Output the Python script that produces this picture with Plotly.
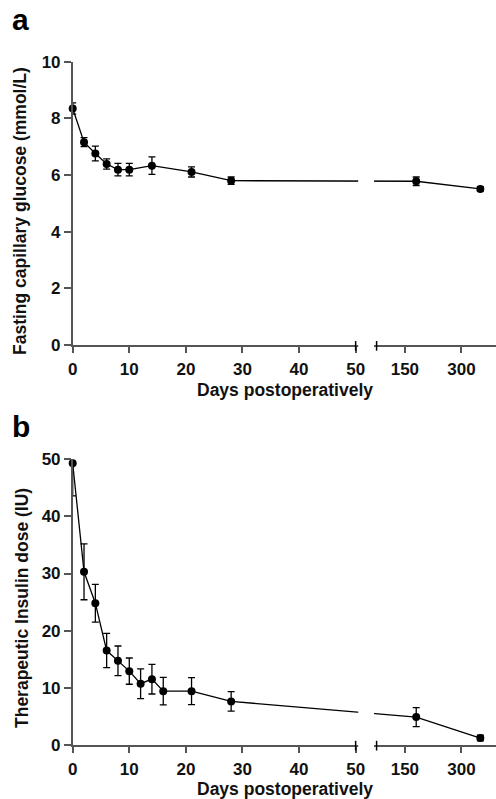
import plotly.graph_objects as go

# panel a: fasting capillary glucose
days_a = [0, 2, 4, 6, 8, 10, 14, 21, 28, 180, 350]
glucose = [8.35, 7.16, 6.76, 6.39, 6.19, 6.19, 6.33, 6.11, 5.80, 5.78, 5.51]
glucose_err = [0.20, 0.16, 0.26, 0.18, 0.22, 0.22, 0.31, 0.18, 0.13, 0.15, 0.08]

# panel b: therapeutic insulin dose
days_b = [0, 2, 4, 6, 8, 10, 12, 14, 16, 21, 28, 180, 350]
insulin = [49.3, 30.3, 24.8, 16.5, 14.7, 12.9, 10.7, 11.5, 9.4, 9.4, 7.6, 4.85, 1.17]
insulin_err = [5.7, 4.9, 3.3, 3.0, 2.6, 2.3, 2.6, 2.6, 2.4, 2.35, 1.7, 1.65, 0.5]

x_ticks = [0, 10, 20, 30, 40, 50, 150, 300]

# broken x axis: 0-50 linear, then a compressed segment from day 75 on
BREAK_END = 50
SEG2_START_DAY = 75
SEG2_START_POS = 53.7
SEG2_SCALE = 10 / 150
X_MAX = 74.8

W, H = 496, 799


def to_axis(d):
    if d <= BREAK_END:
        return d
    return SEG2_START_POS + (d - SEG2_START_DAY) * SEG2_SCALE


FONT = "Liberation Sans, Arial, sans-serif"
AXIS_COLOR = "#555555"


def panel_trace(days, vals, errs, xa, ya):
    return go.Scatter(
        x=[to_axis(d) for d in days], y=vals,
        mode="lines+markers",
        line=dict(color="black", width=1.3),
        marker=dict(color="black", size=8),
        error_y=dict(type="data", array=errs, color="black",
                     thickness=1.3, width=3.5),
        cliponaxis=False,
        xaxis=xa, yaxis=ya,
        showlegend=False,
    )


fig = go.Figure([
    panel_trace(days_a, glucose, glucose_err, "x", "y"),
    panel_trace(days_b, insulin, insulin_err, "x2", "y2"),
])

tickfont = dict(family=FONT, size=17, color="#111111", weight="bold")
xax = dict(
    range=[0, X_MAX],
    tickvals=[to_axis(t) for t in x_ticks],
    ticktext=[str(t) for t in x_ticks],
    showline=True, linecolor=AXIS_COLOR, linewidth=1.5,
    ticks="outside", ticklen=6, tickwidth=1.5, tickcolor=AXIS_COLOR,
    tickfont=tickfont, automargin=False, ticklabelstandoff=2,
    showgrid=False, zeroline=False,
    domain=[72.7 / W, 1.0],
)
yax = dict(
    showline=True, linecolor=AXIS_COLOR, linewidth=1.5,
    ticks="outside", ticklen=7, tickwidth=1.5, tickcolor=AXIS_COLOR,
    tickfont=tickfont, automargin=False,
    showgrid=False, zeroline=False,
)

fig.update_layout(
    width=W, height=H,
    margin=dict(l=0, r=0, t=0, b=0, autoexpand=False),
    paper_bgcolor="white", plot_bgcolor="white",
    xaxis=dict(xax, anchor="y"),
    xaxis2=dict(xax, anchor="y2"),
    yaxis=dict(yax, range=[0, 10], dtick=2,
               domain=[1 - 345 / H, 1 - 61.7 / H], anchor="x"),
    yaxis2=dict(yax, range=[0, 50], dtick=10,
                domain=[1 - 744.8 / H, 1 - 459.3 / H], anchor="x2"),
)

shapes = []
for xr, yr in (("x", "y"), ("x2", "y2")):
    # gap in axis and data line at the break
    shapes.append(dict(type="rect", xref=xr, yref=f"{yr} domain",
                       x0=50.45, x1=53.25, y0=-0.012, y1=1.0,
                       fillcolor="white", line=dict(width=0), layer="above"))
    for pos in (BREAK_END, SEG2_START_POS):
        shapes.append(dict(type="line", xref=xr, yref=f"{yr} domain",
                           x0=pos, x1=pos, y0=-0.02, y1=0.014,
                           line=dict(color="black", width=1.5), layer="above"))
# hide the part of the first insulin error bar above the axis top
shapes.append(dict(type="rect", xref="x2", yref="y2", x0=-3, x1=3, y0=50.4, y1=58,
                   fillcolor="white", line=dict(width=0), layer="above"))
fig.update_layout(shapes=shapes)

title_font = dict(family=FONT, size=17.5, color="#111111", weight="bold")


def label(text, px, py, font, angle=0):
    return dict(text=text, x=px / W, y=1 - py / H, xref="paper", yref="paper",
                xanchor="center", yanchor="middle",
                showarrow=False, textangle=angle, font=font)


fig.update_layout(annotations=[
    label("a", 20, 19, dict(family=FONT, size=30, color="black", weight="bold")),
    label("b", 21, 426, dict(family=FONT, size=30, color="black", weight="bold")),
    label("Fasting capillary glucose (mmol/L)", 20, 211, title_font, -90),
    label("Therapeutic Insulin dose (IU)", 22, 608, title_font, -90),
    label("Days postoperatively", 285, 390, title_font),
    label("Days postoperatively", 285, 789, title_font),
])

fig.write_html("out.html", config={"displayModeBar": False},
               post_script="document.body.style.margin='0';")
